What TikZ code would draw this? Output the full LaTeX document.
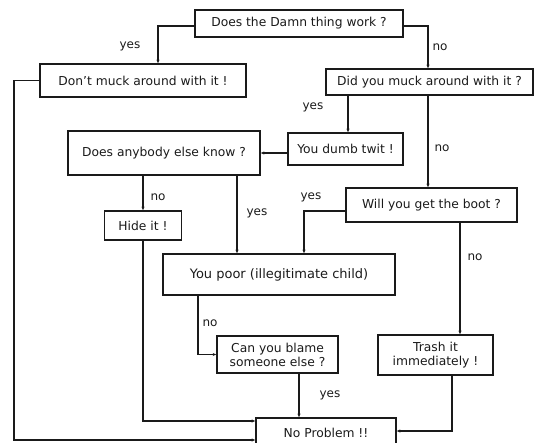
\documentclass[tikz,border=0pt]{standalone}
\usepackage{fontspec}
\setmainfont{DejaVu Sans}
\usetikzlibrary{arrows.meta}
\definecolor{ScanInk}{HTML}{1A1A1A}

\begin{document}
\begin{tikzpicture}[x=1pt,y=-1pt,
    box/.style={draw=ScanInk,line width=1.6pt,inner sep=0pt,align=center,
      font=\fontsize{12.3}{14}\selectfont,text=ScanInk},
    link/.style={draw=ScanInk,line width=1.6pt,-{Stealth[length=3.5pt,width=3pt]}},
    answer/.style={font=\fontsize{12}{13}\selectfont,text=ScanInk}
  ]
    \clip (0,0) rectangle (537,442);

    \node[box,minimum width=208pt,minimum height=27pt] (work)    at (299,23.5) {Does the Damn thing work ?};
    \node[box,minimum width=206pt,minimum height=33pt] (dont)    at (143,80.5) {Don't muck around with it !};
    \node[box,minimum width=207pt,minimum height=26pt] (muck)    at (429.5,82) {Did you muck around with it ?};
    \node[box,minimum width=115pt,minimum height=32pt] (twit)    at (345.5,149) {You dumb twit !};
    \node[box,minimum width=192pt,minimum height=44pt] (anybody) at (164,153) {Does anybody else know ?};
    \node[box,minimum width=77pt,minimum height=29pt]  (hide)    at (143,225.5) {Hide it !};
    \node[box,minimum width=171pt,minimum height=34pt] (boot)    at (431.5,205) {Will you get the boot ?};
    \node[box,minimum width=232pt,minimum height=41pt,
      font=\fontsize{13}{15}\selectfont]                (poor)    at (279,274.5) {You poor (illegitimate child)};
    \node[box,minimum width=121pt,minimum height=37pt] (blame)   at (277.5,354.5) {Can you blame\\someone else ?};
    \node[box,minimum width=115pt,minimum height=40pt] (trash)   at (435.5,355) {Trash it\\immediately !};
    \node[box,minimum width=140pt,minimum height=30pt] (fine)    at (326,433) {No Problem !!};

    % answers
    \node[answer] (yes1) at (130,46)  {yes};
    \node[answer] (no1)  at (440,47)  {no};
    \node[answer] (yes2) at (313,107) {yes};
    \node[answer] (no2)  at (442,148) {no};
    \node[answer] (no3)  at (158,197) {no};
    \node[answer] (yes3) at (257,213) {yes};
    \node[answer] (yes4) at (311,197) {yes};
    \node[answer] (no4)  at (475,257) {no};
    \node[answer] (no5)  at (210,323) {no};
    \node[answer] (yes5) at (330,395) {yes};

    \coordinate (ayes) at ([xshift=73pt]anybody.south);
    \coordinate (pno)  at ([xshift=-81pt]poor.south);
    \coordinate (outer) at (14,440);

    \draw[link] ([yshift=-2.5pt]work.west) -| ([xshift=15pt]dont.north);
    \draw[link] ([yshift=-2.5pt]work.east) -| ([xshift=-1.5pt]muck.north);
    \draw[link] ([xshift=2.5pt]twit.north |- muck.south) -- ([xshift=2.5pt]twit.north);
    \draw[link] ([xshift=-1.5pt]muck.south) -- ([xshift=-1.5pt]muck.south |- boot.north);
    \draw[link] (twit.west |- anybody.east) -- (anybody.east);
    \draw[link] (hide.north |- anybody.south) -- (hide.north);
    \draw[link] (ayes) -- (ayes |- poor.north);
    \draw[link] ([yshift=-6pt]boot.west) -| ([xshift=25pt]poor.north);
    \draw[link] ([xshift=28.5pt]boot.south) -- ([xshift=28.5pt]boot.south |- trash.north);
    \draw[link] (pno) |- (blame.west);
    \draw[link] ([xshift=21.5pt]blame.south) -- ([xshift=21.5pt]blame.south |- fine.north);
    \draw[link] ([xshift=16.5pt]trash.south) |- ([yshift=2pt]fine.east);
    \draw[link] (hide.south) |- ([yshift=12pt]fine.west);
    \draw[link] (dont.west) -| (outer) -- (outer -| fine.west);
  \end{tikzpicture}
\end{document}
